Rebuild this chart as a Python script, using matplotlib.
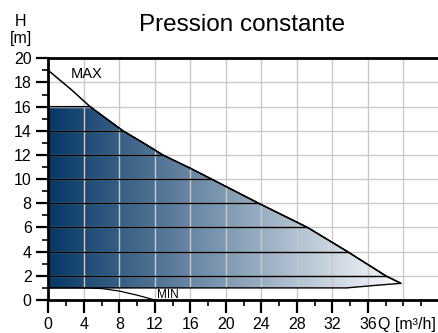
import numpy as np
import matplotlib
matplotlib.use("Agg")
import matplotlib.pyplot as plt
from matplotlib.patches import Polygon
from matplotlib.colors import LinearSegmentedColormap
from matplotlib.ticker import MultipleLocator

plt.rcParams['font.family'] = ['Liberation Sans', 'DejaVu Sans']

# Data
title = "Pression constante"
max_q = [0, 2.6, 4.7, 8.4, 10.7, 12.9, 16.0, 18.4, 23.7, 29.2, 33.7, 38.0, 39.7]
max_h = [19, 17.4, 16, 14, 13, 12, 10.9, 10, 8, 6, 4, 2, 1.38]
min_q = [0, 4, 6, 8, 10, 12]
min_h = [1.0, 1.0, 0.95, 0.74, 0.4, 0.0]
region_top = 16
region_bottom = 1.0
bottom_q = [39.7, 37.0, 33.6, 0]
bottom_h = [1.38, 1.22, 1.0, 1.0]
band_levels = [2, 4, 6, 8, 10, 12, 14]
x_ticks = [0, 4, 8, 12, 16, 20, 24, 28, 32, 36]
y_ticks = [0, 2, 4, 6, 8, 10, 12, 14, 16, 18, 20]

fig = plt.figure(figsize=(4.39, 3.33), dpi=100)
ax = fig.add_axes([48.3/439, 1-300/333, 1-48.3/439, (300-58.3)/333])
ax.set_xlim(0, 44)
ax.set_ylim(0, 20)

# Region polygon: flat top, then MAX curve down, then bottom edge back to 0
q_arr = np.array(max_q); h_arr = np.array(max_h)
idx = h_arr <= region_top
poly_q = [0] + list(q_arr[idx]) + bottom_q[1:]
poly_h = [region_top] + list(h_arr[idx]) + bottom_h[1:]
verts = np.column_stack([poly_q, poly_h])

poly = Polygon(verts, closed=True, facecolor='none', edgecolor='black', lw=1.0, zorder=4)
ax.add_patch(poly)

cmap = LinearSegmentedColormap.from_list('g', [(6/255, 55/255, 102/255), (242/255, 245/255, 248/255)])
grad = np.linspace(0, 1, 256).reshape(1, -1)
im = ax.imshow(grad, extent=[0, 38.5, region_bottom, region_top], aspect='auto', cmap=cmap,
               origin='lower', zorder=1, interpolation='bilinear')
clip_poly = Polygon(verts, closed=True, transform=ax.transData)
im.set_clip_path(clip_poly)

# Grid
for x in range(4, 44, 4):
    ax.axvline(x, color='#c9c9c9', lw=1.0, zorder=2)
for y in range(2, 20, 2):
    ax.axhline(y, color='#c9c9c9', lw=1.0, zorder=2)

# Black band lines inside region
for y in band_levels:
    ln, = ax.plot([0, 44], [y, y], color='black', lw=1.0, zorder=3)
    ln.set_clip_path(Polygon(verts, closed=True, transform=ax.transData))

# MAX and MIN curves
ax.plot(max_q, max_h, color='black', lw=1.1, zorder=5)
ax.plot(min_q, min_h, color='black', lw=0.9, zorder=5)

ax.text(4.3, 18.7, 'MAX', fontsize=10.5, ha='center', va='center', zorder=6)
ax.text(13.5, 0.45, 'MIN', fontsize=8.5, ha='center', va='center', zorder=6)

# Spines and ticks
for s in ['left', 'bottom', 'top']:
    ax.spines[s].set_linewidth(2.0)
ax.spines['right'].set_visible(False)

ax.set_xticks(x_ticks)
ax.set_xticklabels([str(v) for v in x_ticks])
ax.xaxis.set_minor_locator(MultipleLocator(2))
ax.set_yticks(y_ticks)
ax.set_yticklabels([str(v) for v in y_ticks])
ax.yaxis.set_minor_locator(MultipleLocator(1))
ax.tick_params(axis='both', which='major', direction='out', length=9, width=1.6, labelsize=11.5)
ax.tick_params(axis='both', which='minor', direction='out', length=4.5, width=1.2)
ax.tick_params(axis='x', which='major', pad=3.5)
ax.tick_params(axis='y', which='major', pad=3)

# Labels
fig.text(378/439, 1-329.5/333, 'Q [m³/h]', fontsize=11.5, ha='left', va='baseline')
fig.text(21/439, 1-26/333, 'H', fontsize=11.5, ha='center', va='baseline')
fig.text(21/439, 1-42.5/333, '[m]', fontsize=11.5, ha='center', va='baseline')
fig.text(242.5/439, 1-30.7/333, title, fontsize=17.5, ha='center', va='baseline')

fig.savefig('out.png', dpi=100)
